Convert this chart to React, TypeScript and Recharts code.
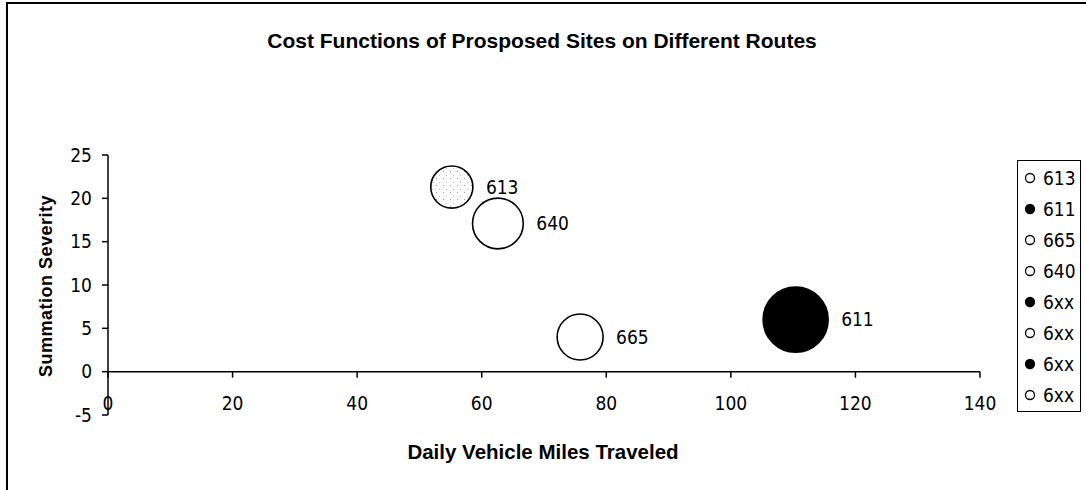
import { ScatterChart, Scatter, XAxis, YAxis, ZAxis, ReferenceLine } from 'recharts';

// sites plotted as bubbles
const sites = ['613', '640', '665', '611'];
const dailyVmt = [55.2, 62.6, 75.8, 110.4];
const severity = [21.3, 17.1, 4.0, 6.0];
const bubbleSize = [4.2, 6.1, 5.0, 10.0];
const bubbleFill = ['url(#speckle)', '#ffffff', '#ffffff', '#000000'];

// legend entries (6xx ones have no points)
const legendNames = ['613', '611', '665', '640', '6xx', '6xx', '6xx', '6xx'];
const legendFilled = [false, true, false, false, true, false, true, false];

const xTicks = [0, 20, 40, 60, 80, 100, 120, 140];
const yTicks = [-5, 0, 5, 10, 15, 20, 25];

const W = 1086;
const H = 490;
const PLOT_TOP = 155;
const PLOT_BOTTOM = 415;
const Y_MIN = -5;
const Y_MAX = 25;
// distance from the plot bottom up to the y=0 line
const ZERO_OFFSET = ((0 - Y_MIN) / (Y_MAX - Y_MIN)) * (PLOT_BOTTOM - PLOT_TOP);

const tickFont = "'Liberation Sans Narrow', 'DejaVu Sans Condensed', Arial, sans-serif";
const boldFont = "'Liberation Sans', Arial, sans-serif";

const XTick = (props: any) => {
  const { x, y, payload } = props;
  return (
    <g>
      <line x1={x} x2={x} y1={y - ZERO_OFFSET} y2={y - ZERO_OFFSET + 6} stroke="#000" strokeWidth={1.5} />
      <text x={x} y={y - 12} dy="0.355em" textAnchor="middle" fontSize={19} fontFamily={tickFont} fill="#000">
        {payload.value}
      </text>
    </g>
  );
};

const Bubble = (props: any) => {
  const { cx, cy, width, fill, payload } = props;
  const r = width / 2;
  return (
    <g>
      <circle cx={cx} cy={cy} r={r} fill={fill} stroke="#000" strokeWidth={1.6} />
      <text x={cx + r + 13} y={cy} dy="0.355em" fontSize={19} fontFamily={tickFont} fill="#000">
        {payload.name}
      </text>
    </g>
  );
};

export default function App() {
  return (
    <div style={{ position: 'absolute', left: 0, top: 0, width: W, height: H, background: '#fff' }}>
      <div
        style={{
          position: 'absolute',
          left: 6,
          top: 2,
          width: W - 6,
          height: H - 2,
          borderTop: '2px solid #000',
          borderLeft: '2px solid #000',
          boxSizing: 'border-box'
        }}
      />
      <div
        style={{
          position: 'absolute',
          left: 542,
          top: 41,
          transform: 'translate(-50%, -50%)',
          whiteSpace: 'nowrap',
          fontFamily: boldFont,
          fontWeight: 'bold',
          fontSize: 21
        }}
      >
        Cost Functions of Prosposed Sites on Different Routes
      </div>
      <div
        style={{
          position: 'absolute',
          left: 543,
          top: 452,
          transform: 'translate(-50%, -50%)',
          whiteSpace: 'nowrap',
          fontFamily: boldFont,
          fontWeight: 'bold',
          fontSize: 20.5
        }}
      >
        Daily Vehicle Miles Traveled
      </div>
      <div
        style={{
          position: 'absolute',
          left: 46,
          top: 286,
          transform: 'translate(-50%, -50%) rotate(-90deg)',
          whiteSpace: 'nowrap',
          fontFamily: boldFont,
          fontWeight: 'bold',
          fontSize: 18,
          letterSpacing: 0.5
        }}
      >
        Summation Severity
      </div>

      <ScatterChart width={W} height={H} margin={{ top: PLOT_TOP, right: 106, bottom: 45, left: 0 }} style={{ position: 'absolute', left: 0, top: 0 }}>
        <defs>
          <pattern id="speckle" width="7" height="7" patternUnits="userSpaceOnUse">
            <rect width="7" height="7" fill="#fff" />
            <rect x="2" y="3" width="1" height="1" fill="#999" />
            <rect x="5" y="0" width="1" height="1" fill="#bbb" />
          </pattern>
        </defs>
        <XAxis
          type="number"
          dataKey="x"
          domain={[0, 140]}
          ticks={xTicks}
          interval={0}
          axisLine={false}
          tickLine={false}
          tickSize={0}
          tickMargin={0}
          height={30}
          tick={<XTick />}
        />
        <YAxis
          type="number"
          dataKey="y"
          domain={[Y_MIN, Y_MAX]}
          ticks={yTicks}
          interval={0}
          width={108}
          axisLine={{ stroke: '#000', strokeWidth: 1.5 }}
          tickLine={{ stroke: '#000', strokeWidth: 1.5 }}
          tickSize={6}
          tickMargin={10}
          tick={{ fontSize: 19, fontFamily: tickFont, fill: '#000' }}
        />
        <ZAxis type="number" dataKey="z" domain={[0, 10]} range={[0, Math.PI * 32.5 * 32.5]} />
        <ReferenceLine y={0} stroke="#000" strokeWidth={1.5} />
        {sites.map((s, i) => (
          <Scatter
            key={s}
            name={s}
            data={[{ x: dailyVmt[i], y: severity[i], z: bubbleSize[i], name: s }]}
            fill={bubbleFill[i]}
            shape={<Bubble />}
            isAnimationActive={false}
          />
        ))}
      </ScatterChart>

      <div
        style={{
          position: 'absolute',
          left: 1017,
          top: 160,
          width: 64,
          height: 252,
          border: '1.5px solid #000',
          boxSizing: 'border-box',
          paddingTop: 1,
          fontFamily: tickFont,
          fontSize: 19
        }}
      >
        {legendNames.map((n, i) => (
          <div key={i} style={{ height: 31, display: 'flex', alignItems: 'center' }}>
            <svg width={24} height={14} style={{ flex: 'none' }}>
              <circle cx={12} cy={7} r={4.5} fill={legendFilled[i] ? '#000' : '#fff'} stroke="#000" strokeWidth={1.3} />
            </svg>
            <span style={{ marginLeft: 1 }}>{n}</span>
          </div>
        ))}
      </div>
    </div>
  );
}
